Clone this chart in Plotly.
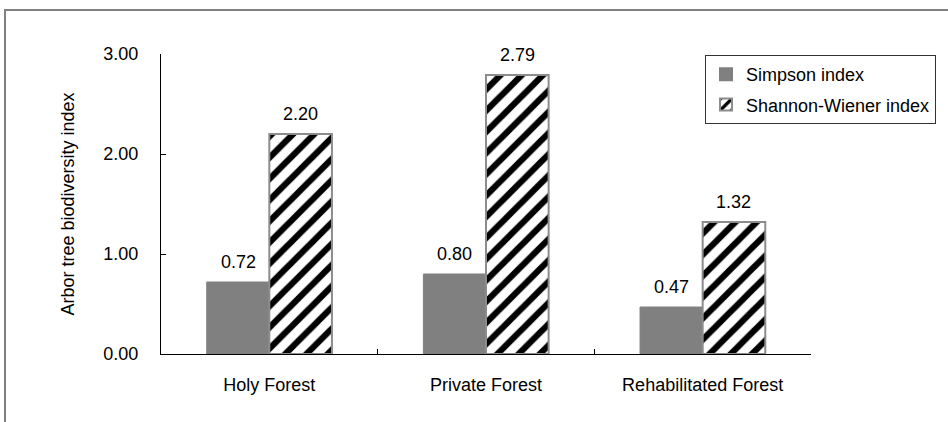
import plotly.graph_objects as go

# Biodiversity indices of arbor trees per forest type
forests = ["Holy Forest", "Private Forest", "Rehabilitated Forest"]
simpson = [0.72, 0.80, 0.47]
shannon = [2.20, 2.79, 1.32]
y_ticks = [0, 1, 2, 3]

FONT = "Liberation Sans, Arial, sans-serif"
FS = 18
BARGAP = 0.422

# plot-area geometry in pixels
W, H = 948, 422
L, R, T, B = 161, 137, 54, 68
pw, ph = W - L - R, H - T - B


def px_x(x):
    return (x - L) / pw


def px_y(y):
    return (H - B - y) / ph


fig = go.Figure()
fig.add_trace(go.Bar(
    name="Simpson index", x=forests, y=simpson,
    marker=dict(color="#808080", line=dict(color="#808080", width=1)),
    legendgroup="simpson",
))
fig.add_trace(go.Bar(
    name="Shannon-Wiener index", x=forests, y=shannon,
    marker=dict(
        color="white",
        line=dict(color="#8c8c8c", width=2),
        pattern=dict(shape="/", fgcolor="black", bgcolor="white",
                     size=15, solidity=0.42, fillmode="replace",
                     fgopacity=1),
    ),
    legendgroup="shannon",
))

# value labels above each bar
half = (1 - BARGAP) / 4
for series, sign in ((simpson, -1), (shannon, 1)):
    for i, v in enumerate(series):
        fig.add_annotation(
            x=i + sign * half, y=v, xref="x", yref="y",
            text=f"{v:.2f}", showarrow=False, yanchor="middle", yshift=20,
            font=dict(family=FONT, size=FS, color="black"),
        )

# chart frame
fig.add_shape(type="rect", xref="paper", yref="paper",
              x0=px_x(5), x1=px_x(970), y0=px_y(10), y1=px_y(450),
              line=dict(color="#808080", width=2), fillcolor="rgba(0,0,0,0)",
              layer="below")

fig.update_layout(
    width=W, height=H,
    margin=dict(l=L, r=R, t=T, b=B, autoexpand=False),
    paper_bgcolor="white", plot_bgcolor="white",
    barmode="group", bargap=BARGAP, bargroupgap=0,
    font=dict(family=FONT, size=FS, color="black"),
    showlegend=True,
    legend=dict(
        x=px_x(705), y=px_y(55), xanchor="left", yanchor="top",
        bgcolor="white", bordercolor="#333333", borderwidth=1,
        font=dict(family=FONT, size=FS, color="black"),
        tracegroupgap=4, itemsizing="constant",
    ),
    xaxis=dict(
        showline=True, linecolor="black", linewidth=1,
        ticks="inside", ticklen=5, tickcolor="black", tickson="boundaries",
        ticklabelstandoff=14, showgrid=False,
    ),
    yaxis=dict(
        range=[0, 3], tickvals=y_ticks, tickformat=".2f",
        showline=True, linecolor="black", linewidth=1,
        ticks="inside", ticklen=5, tickcolor="black",
        ticklabelstandoff=18, showgrid=False, zeroline=False,
        title=dict(text="Arbor tree biodiversity index", standoff=24,
                   font=dict(family=FONT, size=FS, color="black")),
    ),
)

fig.write_html("out.html")
